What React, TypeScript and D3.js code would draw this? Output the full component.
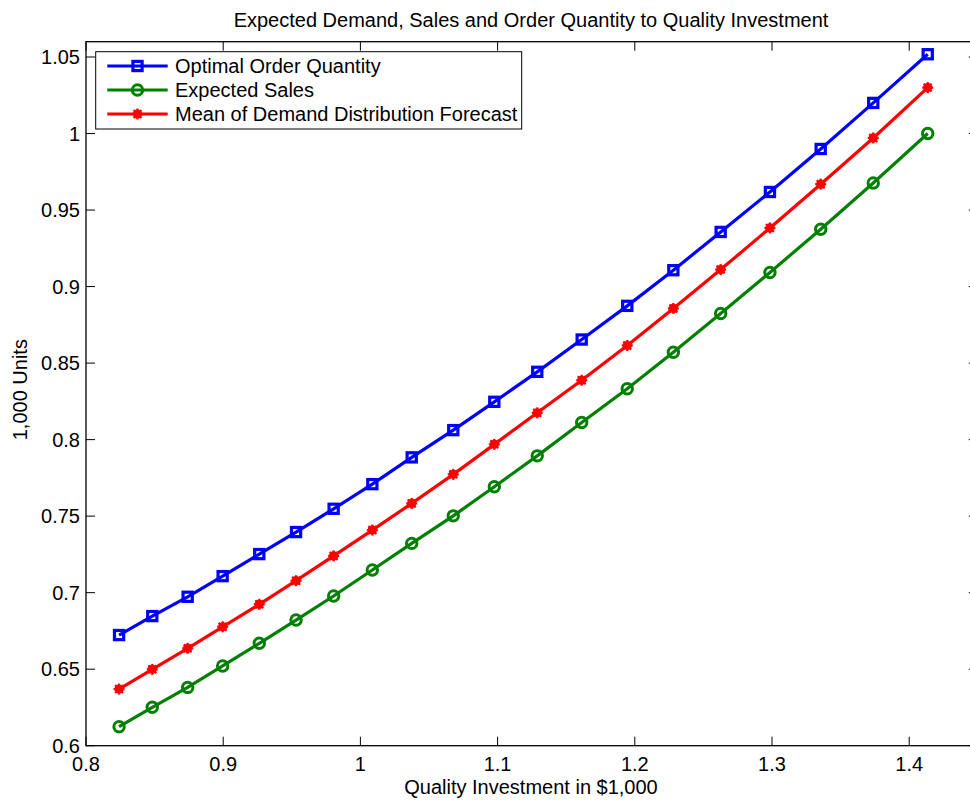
import React from "react";
import * as d3 from "d3";

const investment = [0.8241, 0.8483, 0.8741, 0.8996, 0.9263, 0.9531, 0.9805, 1.0087, 1.0374, 1.0677, 1.0976, 1.1289, 1.1613, 1.1945, 1.2281, 1.2626, 1.2985, 1.3355, 1.3738, 1.4135];
const orderQty = [0.6723, 0.6847, 0.6973, 0.7108, 0.7252, 0.7396, 0.7548, 0.7709, 0.7884, 0.8062, 0.8247, 0.8443, 0.8654, 0.8874, 0.9107, 0.9357, 0.9618, 0.9899, 1.0200, 1.0518];
const expectedSales = [0.6124, 0.6251, 0.6381, 0.6521, 0.6669, 0.6821, 0.6978, 0.7148, 0.7322, 0.7502, 0.7692, 0.7894, 0.8112, 0.8332, 0.8571, 0.8824, 0.9092, 0.9375, 0.9677, 1.0000];
const meanDemand = [0.6370, 0.6499, 0.6636, 0.6777, 0.6924, 0.7078, 0.7240, 0.7409, 0.7583, 0.7773, 0.7969, 0.8175, 0.8388, 0.8615, 0.8857, 0.9111, 0.9383, 0.9669, 0.9971, 1.0300];

const xTicks = [0.8, 0.9, 1, 1.1, 1.2, 1.3, 1.4];
const yTicks = [0.6, 0.65, 0.7, 0.75, 0.8, 0.85, 0.9, 0.95, 1, 1.05];

const seriesNames = ["Optimal Order Quantity", "Expected Sales", "Mean of Demand Distribution Forecast"];
const seriesColors = ["#0000ff", "#008000", "#ff0000"];
const seriesMarkers = ["square", "circle", "star"];
const seriesValues = [orderQty, expectedSales, meanDemand];

const W = 970, H = 802;
const L = 86, R = 977.8, T = 41.7, B = 745.7;
const FONT = "'Liberation Sans', Arial, Helvetica, sans-serif";
const FS = 20;

function Marker({ type, x, y, color }: { type: string; x: number; y: number; color: string }) {
  if (type === "square") {
    return <rect x={x - 4.6} y={y - 4.6} width={9.2} height={9.2} fill="none" stroke={color} strokeWidth={3.2} />;
  }
  if (type === "circle") {
    return <circle cx={x} cy={y} r={5.2} fill="none" stroke={color} strokeWidth={3} />;
  }
  const s = 5.5;
  const d = s * 0.72;
  return (
    <g stroke={color} strokeWidth={2.2}>
      <circle cx={x} cy={y} r={4.6} fill={color} stroke="none" />
      <line x1={x - s} y1={y} x2={x + s} y2={y} />
      <line x1={x} y1={y - s} x2={x} y2={y + s} />
      <line x1={x - d} y1={y - d} x2={x + d} y2={y + d} />
      <line x1={x - d} y1={y + d} x2={x + d} y2={y - d} />
    </g>
  );
}

export default function App() {
  const xs = d3.scaleLinear().domain([0.8, 1.45]).range([L, R]);
  const ys = d3.scaleLinear().domain([0.6, 1.06]).range([B, T]);
  const line = d3.line<[number, number]>().x((d) => xs(d[0])).y((d) => ys(d[1]));
  const tickLen = 9;

  const legX = 95.7, legY = 51.7, legW = 426, legH = 77.3;
  const rowYs = [66, 90, 114];

  return (
    <svg width={W} height={H} style={{ position: "absolute", left: 0, top: 0, background: "#fff" }} fontFamily={FONT}>
      <rect x={0} y={0} width={W} height={H} fill="#fff" />
      {xTicks.map((t) => (
        <g key={"xt" + t}>
          <line x1={xs(t)} x2={xs(t)} y1={B} y2={B - tickLen} stroke="#000" strokeWidth={1} />
          <line x1={xs(t)} x2={xs(t)} y1={T} y2={T + tickLen} stroke="#000" strokeWidth={1} />
          <text x={xs(t)} y={771} textAnchor="middle" fontSize={FS}>{d3.format("")(t)}</text>
        </g>
      ))}
      {yTicks.map((t) => (
        <g key={"yt" + t}>
          <line x1={L} x2={L + tickLen} y1={ys(t)} y2={ys(t)} stroke="#000" strokeWidth={1} />
          <line x1={R} x2={R - tickLen} y1={ys(t)} y2={ys(t)} stroke="#000" strokeWidth={1} />
          <text x={80} y={ys(t) + 7.2} textAnchor="end" fontSize={FS}>{d3.format("")(t)}</text>
        </g>
      ))}
      <rect x={L} y={T} width={R - L} height={B - T} fill="none" stroke="#000" strokeWidth={1.3} />

      {seriesValues.map((vals, i) => {
        const pts = investment.map((x, j) => [x, vals[j]] as [number, number]);
        return (
          <g key={"s" + i}>
            <path d={line(pts) || ""} fill="none" stroke={seriesColors[i]} strokeWidth={3.2} />
            {pts.map((p, j) => (
              <Marker key={j} type={seriesMarkers[i]} x={xs(p[0])} y={ys(p[1])} color={seriesColors[i]} />
            ))}
          </g>
        );
      })}

      <rect x={legX} y={legY} width={legW} height={legH} fill="#fff" stroke="#000" strokeWidth={1} />
      {seriesNames.map((name, i) => (
        <g key={"lg" + i}>
          <line x1={107.3} x2={167.7} y1={rowYs[i]} y2={rowYs[i]} stroke={seriesColors[i]} strokeWidth={3.2} />
          <Marker type={seriesMarkers[i]} x={137.5} y={rowYs[i]} color={seriesColors[i]} />
          <text x={175} y={rowYs[i] + 7.2} fontSize={FS}>{name}</text>
        </g>
      ))}

      <text x={531} y={27} textAnchor="middle" fontSize={FS}>Expected Demand, Sales and Order Quantity to Quality Investment</text>
      <text x={531} y={794} textAnchor="middle" fontSize={FS}>Quality Investment in $1,000</text>
      <text transform={`translate(27, ${(T + B) / 2 - 4}) rotate(-90)`} textAnchor="middle" fontSize={FS}>1,000 Units</text>
    </svg>
  );
}
